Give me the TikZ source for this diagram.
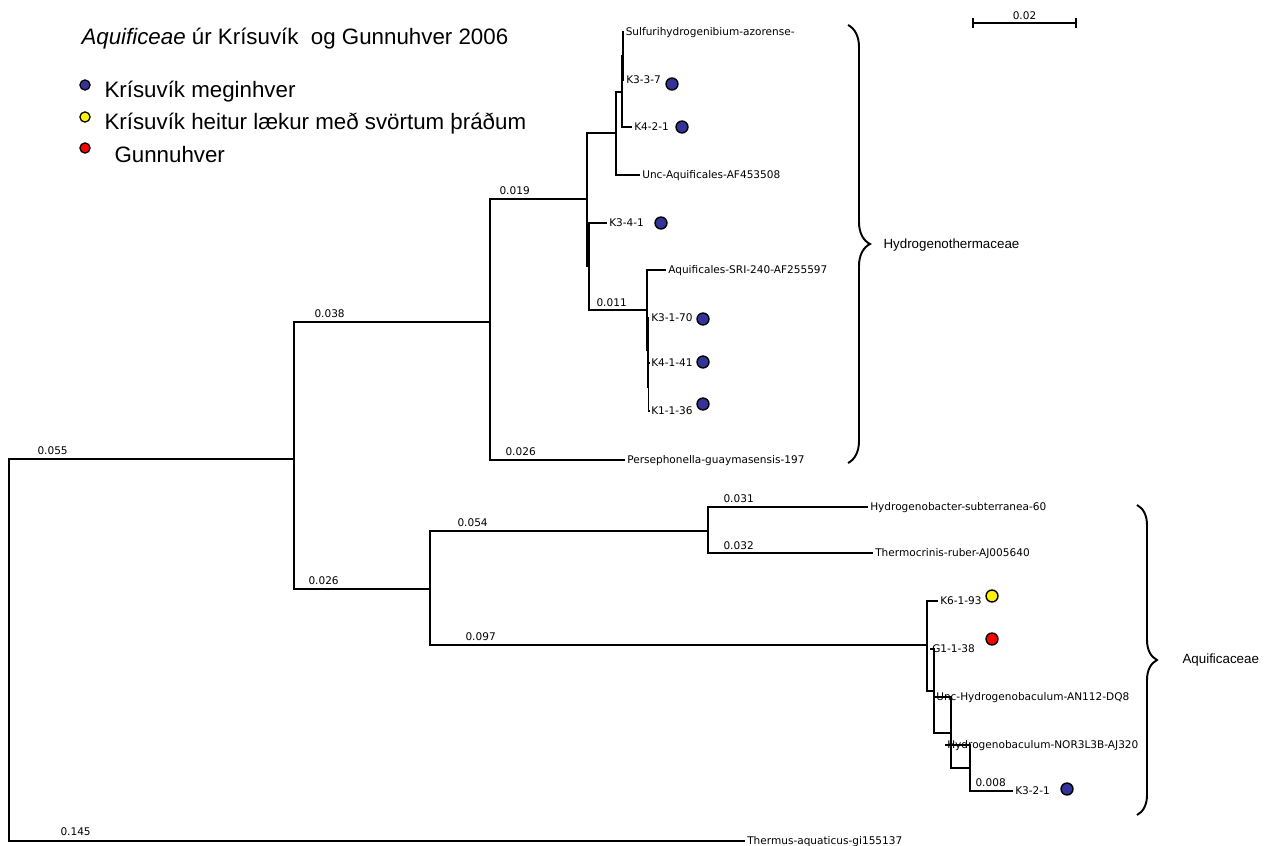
\documentclass[tikz,border=0pt]{standalone}
\usepackage{fontspec}
\setmainfont{Liberation Sans}
\newfontfamily\treefont{DejaVu Sans}
\usepackage{xcolor}
\usepackage{tikz}
\usetikzlibrary{decorations.pathreplacing}
\definecolor{kblue}{RGB}{51,51,153}

\begin{document}
\begin{tikzpicture}[x=0.02cm,y=-0.02cm,line width=0.6pt,
  leaf/.style={anchor=west,inner sep=1pt,text height=4.4pt,text depth=0pt,font=\treefont\fontsize{6}{7}\selectfont},
  blen/.style={anchor=west,inner sep=0pt,font=\treefont\fontsize{6}{7}\selectfont},
  dot/.style={circle,draw=black,line width=0.8pt,minimum size=6.8pt,inner sep=0pt},
  keydot/.style={circle,draw=black,line width=0.7pt,minimum size=5.8pt,inner sep=0pt},
  keytxt/.style={anchor=base west,inner sep=0pt,font=\fontsize{12.7}{15}\selectfont},
  clade/.style={anchor=west,inner sep=0pt,font=\fontsize{7.6}{9}\selectfont},
  curly/.style={decorate,line width=1.1pt}]
  \useasboundingbox (0,0) rectangle (1267,845);

  % title and key
  \node[keytxt] (title) at (81,44) {\textit{Aquificeae} úr Krísuvík\ \ og Gunnuhver 2006};
  \node[keydot,fill=kblue]  (key1) at (85,85)  {};
  \node[keydot,fill=yellow] (key2) at (85,117) {};
  \node[keydot,fill=red]    (key3) at (85,148) {};
  \node[keytxt] (keyt1) at (104,97)  {Krísuvík meginhver};
  \node[keytxt] (keyt2) at (104,129) {Krísuvík heitur lækur með svörtum þráðum};
  \node[keytxt] (keyt3) at (114,162) {Gunnuhver};

  % inner nodes of the tree
  \foreach \nm/\px/\py in {n1/9/650,n2/294/459,n3/490/322,n4/587/199,n5/616/133,n6/622/92,
      n7/623/56,n8/589/266,n9/647/310,n10/648/350,n11/648.5/387,n12/430/589,n13/708/531,
      n14/927/645,n15/934/691,n16/951/733,n17/970/768}
    \coordinate (\nm) at (\px,\py);

  % leaves
  \foreach \nm/\px/\py/\txt in {sulf/623.5/32/Sulfurihydrogenibium-azorense-,k337/624/80/K3-3-7,
      k421/632/127/K4-2-1,uaq/640/175/Unc-Aquificales-AF453508,k341/607/223/K3-4-1,
      sri/666/270/Aquificales-SRI-240-AF255597,k3170/649/318/K3-1-70,k4141/649/363/K4-1-41,
      k1136/649/411/K1-1-36,pers/625/460/Persephonella-guaymasensis-197,
      hsub/868/507/Hydrogenobacter-subterranea-60,tcr/873/553/Thermocrinis-ruber-AJ005640,
      k6193/938/601/K6-1-93,g1138/930/649/G1-1-38,uhyd/934/697/Unc-Hydrogenobaculum-AN112-DQ8,
      nor/945/745/Hydrogenobaculum-NOR3L3B-AJ320,k321/1013/791/K3-2-1,
      therm/745/841/Thermus-aquaticus-gi155137}
    \node[leaf] (\nm) at (\px,\py) {\txt};

  % branches
  \foreach \p/\c in {n1/n2,n2/n3,n2/n12,n3/n4,n4/n5,n4/n8,n5/n6,n6/n7,n8/n9,n9/n10,n10/n11,
      n12/n13,n12/n14,n14/n15,n15/n16,n16/n17}
    \draw (\p) |- (\c);
  \foreach \p/\c in {n1/therm,n3/pers,n5/uaq,n6/k421,n7/sulf,n7/k337,n8/k341,n9/sri,n10/k3170,
      n11/k4141,n11/k1136,n13/hsub,n13/tcr,n14/k6193,n15/g1138,n16/uhyd,n17/nor,n17/k321}
    \draw (\p) |- (\c.west);

  % branch lengths
  \foreach \px/\py/\val [count=\i] in {37/451/0.055,314/314/0.038,499/191/0.019,505/452/0.026,
      596/303/0.011,457/523/0.054,308/581/0.026,723/499/0.031,723/546/0.032,465/637/0.097,
      975/783/0.008,60/832/0.145}
    \node[blen] (bl\i) at (\px,\py) {\val};

  % sampling sites
  \foreach \px/\py/\cl [count=\i] in {672/84/kblue,682/127/kblue,661/223/kblue,703/319/kblue,
      703/362/kblue,703/404/kblue,992/596/yellow,992/639/red,1067/789/kblue}
    \node[dot,fill=\cl] (site\i) at (\px,\py) {};

  % families
  \coordinate (hyt) at (848,25);
  \coordinate (hyb) at (848,463);
  \draw[curly,decoration={brace,amplitude=0.44cm}] (hyt) -- (hyb);
  \node[clade] (hydro) at (883,245) {Hydrogenothermaceae};
  \coordinate (aqt) at (1137,505);
  \coordinate (aqb) at (1137,815);
  \draw[curly,decoration={brace,amplitude=0.40cm}] (aqt) -- (aqb);
  \node[clade] (aquif) at (1182,660) {Aquificaceae};

  % scale bar
  \coordinate (sb1) at (973,23);
  \coordinate (sb2) at (1076,23);
  \draw (sb1) -- (sb2);
  \draw (973,18) -- (973,28);
  \draw (1076,18) -- (1076,28);
  \node[blen,anchor=center] (sblab) at (1024.5,16) {0.02};
\end{tikzpicture}
\end{document}
